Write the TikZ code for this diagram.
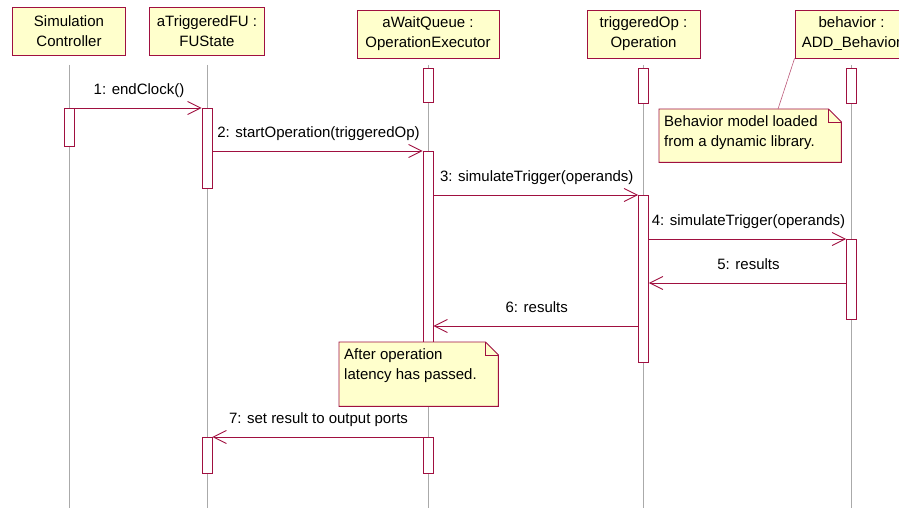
\documentclass[tikz,border=0pt]{standalone}
\usepackage{fontspec}
\setmainfont{Liberation Sans}
\usetikzlibrary{arrows.meta,positioning}
\definecolor{umlred}{RGB}{160,16,64}
\definecolor{umlyellow}{RGB}{255,255,204}
\definecolor{lifegray}{RGB}{170,170,170}
\tikzset{
  object/.style={draw=umlred,fill=umlyellow,line width=0.9pt,minimum height=48pt,inner sep=0pt,align=center},
  activ/.style={draw=umlred,fill=white,line width=0.9pt,minimum width=10pt,inner sep=0pt,anchor=north},
  lifeline/.style={draw=lifegray,line width=0.8pt},
  msg/.style={draw=umlred,line width=0.9pt,-{Straight Barb[length=13pt,width=13pt]}},
  msglabel/.style={midway,anchor=base,inner sep=0pt,xshift=1pt,yshift=13.5pt},
  notebox/.style={fill=umlyellow,inner sep=0pt,anchor=north west},
  notetext/.style={inner xsep=5pt,inner ysep=6pt,anchor=north west,align=left}
}
% folded corner and outline round a note node
\newcommand\dogear[1]{%
  \fill[white] (#1.north east) -- ++(-13pt,0) -- ++(13pt,-13pt) -- cycle;
  \draw[umlred,line width=0.9pt] (#1.north west) -- ([xshift=-13pt]#1.north east)
    -- ([yshift=-13pt]#1.north east) -- (#1.south east) -- (#1.south west) -- cycle;
  \draw[umlred,line width=0.9pt] ([xshift=-13pt]#1.north east) |- ([yshift=-13pt]#1.north east);
}

\begin{document}
\begin{tikzpicture}[x=1pt,y=-1pt,font=\fontsize{15}{20}\selectfont]
  \path[use as bounding box,fill=white] (0,0) rectangle (899,508);
  \clip (0,0) rectangle (899,508);

  % objects
  \node[object,minimum width=113pt] (ctrl) at (69,31) {Simulation\\Controller};
  \node[object,minimum width=115pt] (fu) at (207,31) {aTriggeredFU :\\FUState};
  \node[object,minimum width=142pt] (queue) at (428,34) {aWaitQueue :\\OperationExecutor};
  \node[object,minimum width=113pt] (op) at (643.5,34) {triggeredOp :\\Operation};
  \node[object,minimum width=113pt] (beh) at (851.5,34) {behavior :\\ADD\_Behavior};

  \coordinate (top) at (0,65);
  \coordinate (bottom) at (0,508);
  \foreach \o in {ctrl,fu,queue,op,beh}
    \draw[lifeline] (\o.south |- top) -- (\o.south |- bottom);

  % activations
  \node[activ,minimum height=38pt] (ctrl1) at (ctrl |- 0,108) {};
  \node[activ,minimum height=80pt] (fu1) at (fu |- 0,108) {};
  \node[activ,minimum height=36pt] (fu2) at (fu |- 0,437) {};
  \node[activ,minimum height=34pt] (queue0) at (queue |- 0,68) {};
  \node[activ,minimum height=194pt] (queue1) at (queue |- 0,151) {};
  \node[activ,minimum height=36pt] (queue2) at (queue |- 0,437) {};
  \node[activ,minimum height=35pt] (op0) at (op |- 0,68) {};
  \node[activ,minimum height=167pt] (op1) at (op |- 0,195) {};
  \node[activ,minimum height=35pt] (beh0) at (beh |- 0,68) {};
  \node[activ,minimum height=80pt] (beh1) at (beh |- 0,239) {};

  % messages
  \coordinate (m5) at (0,283);
  \coordinate (m6) at (0,326);
  \draw[msg] (ctrl1.north east) -- (fu1.north west) node[msglabel] {1: endClock()};
  \draw[msg] (fu1.east |- queue1.north) -- (queue1.north west) node[msglabel] {2: startOperation(triggeredOp)};
  \draw[msg] (queue1.east |- op1.north) -- (op1.north west) node[msglabel] {3: simulateTrigger(operands)};
  \draw[msg] (op1.east |- beh1.north) -- (beh1.north west) node[msglabel] {4: simulateTrigger(operands)};
  \draw[msg] (beh1.west |- m5) -- (op1.east |- m5) node[msglabel] {5: results};
  \draw[msg] (op1.west |- m6) -- (queue1.east |- m6) node[msglabel] {6: results};
  \draw[msg] (queue2.north west) -- (fu2.north east) node[msglabel] {7: set result to output ports};

  % notes
  \node[notebox,minimum width=182pt,minimum height=53pt] (behnote) at (659,109) {};
  \dogear{behnote}
  \node[notetext] (behtext) at (behnote.north west) {Behavior model loaded\\from a dynamic library.};
  \draw[umlred!70,line width=0.6pt] (beh.south west) -- ([xshift=119pt]behnote.north west);

  \node[notebox,minimum width=159pt,minimum height=64pt] (after) at (339,342) {};
  \dogear{after}
  \node[notetext] (aftertext) at (after.north west) {After operation\\latency has passed.};
\end{tikzpicture}
\end{document}
